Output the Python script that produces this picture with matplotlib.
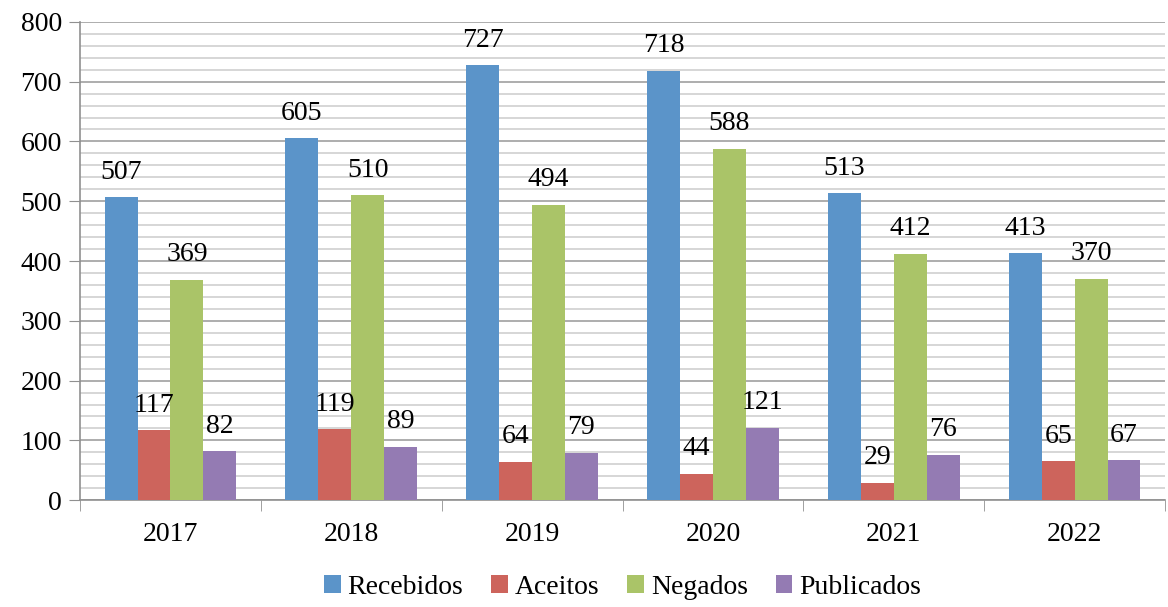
import matplotlib.pyplot as plt
from matplotlib.ticker import MultipleLocator
import numpy as np

anos = ["2017", "2018", "2019", "2020", "2021", "2022"]
recebidos = [507, 605, 727, 718, 513, 413]
aceitos = [117, 119, 64, 44, 29, 65]
negados = [369, 510, 494, 588, 412, 370]
publicados = [82, 89, 79, 121, 76, 67]

series = [("Recebidos", recebidos, "#5b94c9"),
          ("Aceitos", aceitos, "#cd645c"),
          ("Negados", negados, "#aac468"),
          ("Publicados", publicados, "#947bb3")]

plt.rcParams["font.family"] = ["Liberation Serif", "DejaVu Serif"]

fig = plt.figure(figsize=(11.68, 6.07), dpi=100)
ax = fig.add_axes([0.0685, 0.176, 0.929, 0.788])

x = np.arange(len(anos))
w = 0.182
for i, (nome, vals, cor) in enumerate(series):
    pos = x + (i - 1.5) * w
    ax.bar(pos, vals, w, color=cor, label=nome, zorder=3)
    for p, v in zip(pos, vals):
        ax.annotate(str(v), (p, v), xytext=(0, 9), textcoords="offset points",
                    ha="center", va="bottom", fontsize=20, zorder=4)

ax.set_xlim(-0.5, len(anos) - 0.5)
ax.set_ylim(0, 800)
ax.yaxis.set_major_locator(MultipleLocator(100))
ax.yaxis.set_minor_locator(MultipleLocator(20))
ax.grid(axis="y", which="major", color="#a0a0a0", linewidth=1.2, zorder=0)
ax.grid(axis="y", which="minor", color="#d0d0d0", linewidth=1.2, zorder=0)

ax.set_xticks(x)
ax.set_xticklabels(anos)
ax.set_xticks(np.arange(len(anos) + 1) - 0.5, minor=True)
ax.tick_params(axis="x", which="major", length=0, pad=16, labelsize=20)
ax.tick_params(axis="x", which="minor", length=8, color="#909090", direction="out")
ax.tick_params(axis="y", which="major", length=8, color="#909090", labelsize=20, pad=5)
ax.tick_params(axis="y", which="minor", length=0)

for s in ["top", "right"]:
    ax.spines[s].set_visible(False)
for s in ["left", "bottom"]:
    ax.spines[s].set_color("#909090")
    ax.spines[s].set_linewidth(1.2)

ax.legend(loc="upper center", bbox_to_anchor=(0.5, -0.115), ncol=4, frameon=False,
          fontsize=20, handlelength=0.6, handleheight=0.65, handletextpad=0.25,
          columnspacing=1.0, borderaxespad=0.3)

fig.savefig("out.png", dpi=100)
